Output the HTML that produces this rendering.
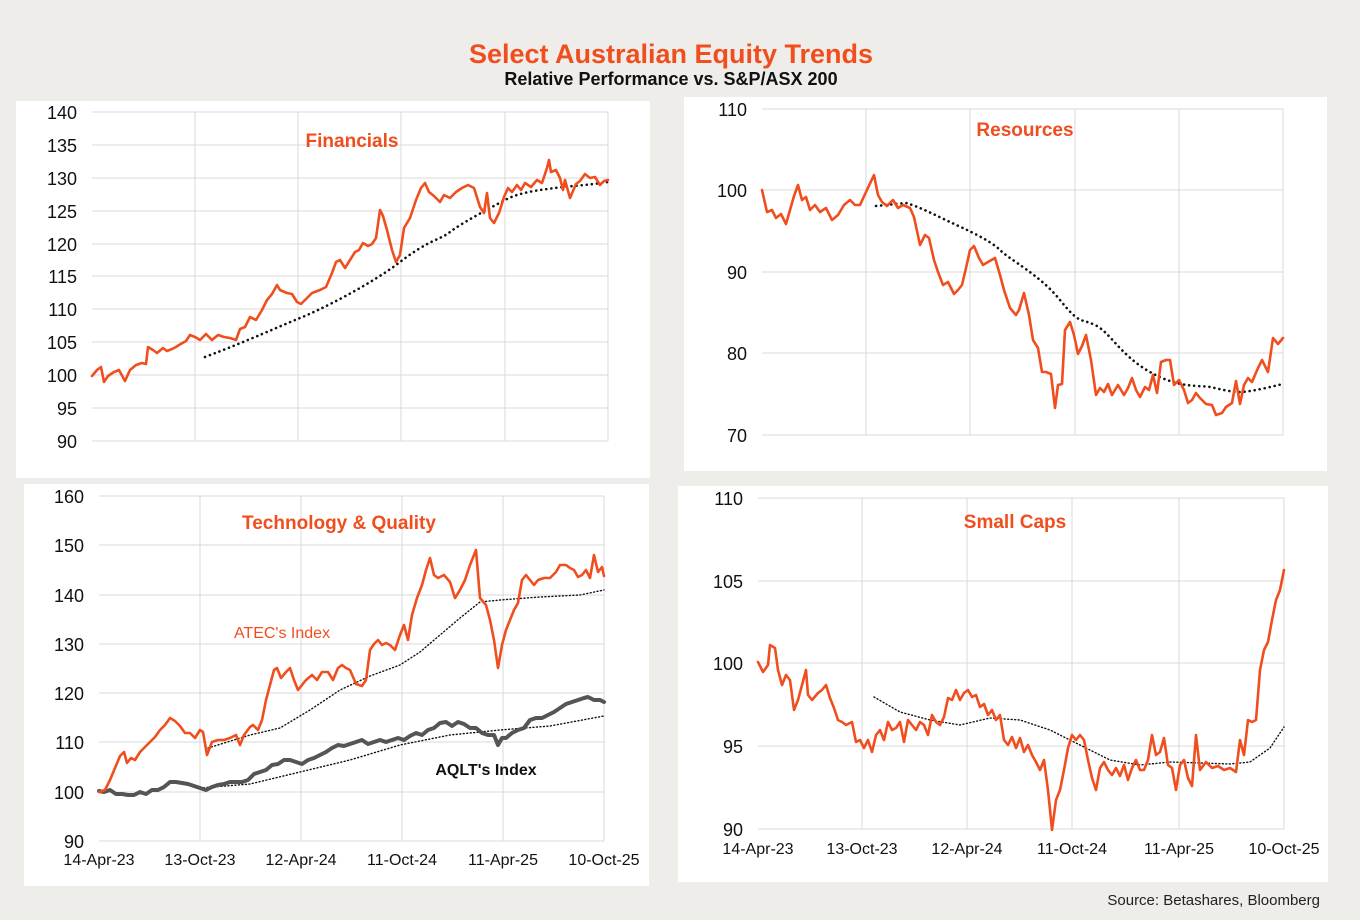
<!DOCTYPE html>
<html><head><meta charset="utf-8"><style>
html,body{margin:0;padding:0;background:#efedea;}
svg{display:block;font-family:"Liberation Sans",Arial,sans-serif;}
</style></head><body>
<svg width="1360" height="920" viewBox="0 0 1360 920" xmlns="http://www.w3.org/2000/svg">
<rect width="1360" height="920" fill="#efedea"/>
<text x="671" y="63" text-anchor="middle" font-size="27" font-weight="bold" fill="#f04e1e">Select Australian Equity Trends</text>
<text x="671" y="85" text-anchor="middle" font-size="18" font-weight="bold" fill="#111">Relative Performance vs. S&amp;P/ASX 200</text>

<rect x="16" y="101" width="634" height="377" fill="#fff"/>
<rect x="684" y="97" width="643" height="374" fill="#fff"/>
<rect x="24" y="484" width="625" height="402" fill="#fff"/>
<rect x="678" y="486" width="650" height="396" fill="#fff"/>

<g stroke="#d9d9d9" stroke-width="1" fill="none">
<!-- chart1 -->
<path d="M92 112H608M92 145H608M92 178H608M92 211H608M92 244H608M92 276H608M92 309H608M92 342H608M92 375H608M92 408H608M92 441H608"/>
<path d="M195 112V441M298 112V441M401 112V441M505 112V441M608 112V441"/>
<!-- chart2 -->
<path d="M762 109H1283M762 190H1283M762 272H1283M762 353H1283M762 435H1283"/>
<path d="M866 109V435M970 109V435M1075 109V435M1179 109V435M1283 109V435"/>
<!-- chart3 -->
<path d="M99 496H604M99 545H604M99 595H604M99 644H604M99 693H604M99 742H604M99 792H604M99 841H604"/>
<path d="M200 496V841M301 496V841M402 496V841M503 496V841M604 496V841"/>
<!-- chart4 -->
<path d="M758 498H1284M758 581H1284M758 663H1284M758 746H1284M758 829H1284"/>
<path d="M862 498V829M967 498V829M1072 498V829M1179 498V829M1284 498V829"/>
</g>

<g font-size="18" fill="#111" text-anchor="end">
<text x="77" y="119">140</text><text x="77" y="152">135</text><text x="77" y="185">130</text><text x="77" y="218">125</text><text x="77" y="251">120</text><text x="77" y="283">115</text><text x="77" y="316">110</text><text x="77" y="349">105</text><text x="77" y="382">100</text><text x="77" y="415">95</text><text x="77" y="448">90</text>
<text x="747" y="116">110</text><text x="747" y="197">100</text><text x="747" y="279">90</text><text x="747" y="360">80</text><text x="747" y="442">70</text>
<text x="84" y="503">160</text><text x="84" y="552">150</text><text x="84" y="602">140</text><text x="84" y="651">130</text><text x="84" y="700">120</text><text x="84" y="749">110</text><text x="84" y="799">100</text><text x="84" y="848">90</text>
<text x="743" y="505">110</text><text x="743" y="588">105</text><text x="743" y="670">100</text><text x="743" y="753">95</text><text x="743" y="836">90</text>
</g>
<g font-size="16" fill="#111" text-anchor="middle">
<text x="99" y="865">14-Apr-23</text><text x="200" y="865">13-Oct-23</text><text x="301" y="865">12-Apr-24</text><text x="402" y="865">11-Oct-24</text><text x="503" y="865">11-Apr-25</text><text x="604" y="865">10-Oct-25</text>
<text x="758" y="854">14-Apr-23</text><text x="862" y="854">13-Oct-23</text><text x="967" y="854">12-Apr-24</text><text x="1072" y="854">11-Oct-24</text><text x="1179" y="854">11-Apr-25</text><text x="1284" y="854">10-Oct-25</text>
</g>

<g font-size="19" font-weight="bold" fill="#f04e1e" text-anchor="middle">
<text x="352" y="147">Financials</text>
<text x="1025" y="136">Resources</text>
<text x="339" y="529">Technology &amp; Quality</text>
<text x="1015" y="528">Small Caps</text>
</g>
<text x="282" y="638" text-anchor="middle" font-size="16" fill="#f04e1e">ATEC's Index</text>
<text x="486" y="775" text-anchor="middle" font-size="16" font-weight="bold" fill="#111">AQLT's Index</text>
<text x="1320" y="905" text-anchor="end" font-size="15" fill="#222">Source:  Betashares, Bloomberg</text>

<g fill="none" stroke-linejoin="round" stroke-linecap="round">
<!-- dotted averages -->
<path stroke="#111" stroke-width="2.6" stroke-dasharray="0.1 5" d="M205 357 C250 340 280 326 300 318 S370 285 400 262 S440 240 450 232 S490 208 505 200 S540 190 555 188 S590 185 608 182"/>
<path stroke="#111" stroke-width="2.6" stroke-dasharray="0.1 5" d="M876 206 L906 203 C920 207 935 215 950 222 S990 240 1000 250 S1040 275 1060 300 S1080 318 1095 325 S1120 355 1150 372 S1200 385 1210 387 S1230 392 1240 392 S1270 387 1283 384"/>
<polyline stroke="#111" stroke-width="1.4" stroke-dasharray="1 2.5" points="208,748 250,735 280,728 310,710 340,690 370,676 400,665 420,652 440,635 460,618 480,602 500,600 540,597 580,595 604,590"/>
<polyline stroke="#111" stroke-width="1.4" stroke-dasharray="1 2.5" points="200,788 250,784 300,772 350,760 400,745 450,735 500,730 550,726 604,716"/>
<polyline stroke="#111" stroke-width="1.4" stroke-dasharray="1 2.5" points="874,697 900,712 930,720 960,725 990,718 1020,720 1050,730 1080,745 1110,760 1140,765 1170,762 1200,763 1230,764 1250,762 1270,748 1284,727"/>

<polyline stroke="#555" stroke-width="4" points="99,791 104,792 110,790 116,794 122,794 128,795 134,795 140,792 146,794 152,790 158,790 164,787 170,782 176,782 182,783 188,784 194,786 200,788 206,790 212,787 218,785 224,784 230,782 236,782 242,782 248,780 254,774 260,772 266,770 272,765 278,764 284,760 290,760 296,762 302,764 308,760 314,758 320,755 326,752 332,748 338,745 344,746 350,744 356,742 362,740 368,744 374,742 380,740 386,742 392,740 398,738 404,740 410,736 416,733 422,735 428,730 434,728 440,723 446,722 452,726 458,722 464,724 470,728 476,728 482,733 488,735 494,735 498,745 502,738 506,738 512,733 518,730 524,728 530,720 536,718 542,718 548,715 554,712 560,708 566,704 572,702 578,700 584,698 588,697 594,700 600,700 604,702"/>

<g stroke="#f04e1e" stroke-width="2.6">
<polyline points="92,376 97,370 101,367 104,382 108,376 114,372 119,370 125,381 130,370 136,365 142,363 146,364 148,347 153,350 157,353 163,348 167,351 172,349 176,347 179,345 186,341 190,335 195,337 200,340 206,334 212,340 218,335 224,337 230,338 236,340 240,329 245,327 250,317 256,320 262,310 267,300 272,294 277,285 280,290 287,293 292,294 297,302 301,304 305,300 312,293 320,290 326,287 332,273 336,262 340,260 345,268 350,260 355,252 359,250 363,243 368,246 372,244 376,238 380,210 383,216 387,230 392,250 396,262 400,255 404,228 410,218 416,200 421,188 425,183 429,192 434,196 440,202 444,195 450,198 456,192 462,188 468,185 474,188 480,207 484,213 487,193 490,218 494,223 499,213 504,197 508,188 512,192 517,185 521,190 525,183 531,187 537,180 542,183 547,168 549,160 551,172 556,170 560,178 563,190 565,180 570,198 576,184 580,181 585,174 590,178 595,177 600,185 604,181 608,180"/>
<polyline points="762,190 767,212 772,210 776,218 781,214 786,224 790,210 794,196 798,185 802,200 806,197 810,210 815,205 820,212 826,208 832,220 838,215 844,205 850,200 855,205 860,205 866,192 874,175 878,195 882,202 887,206 893,200 898,208 903,205 910,208 914,217 920,245 925,235 929,238 934,260 938,272 943,285 948,282 954,294 958,290 962,285 966,268 970,250 974,246 979,258 983,265 988,262 995,258 1000,275 1004,290 1010,308 1016,315 1019,310 1024,293 1029,315 1033,340 1038,348 1042,372 1046,372 1051,374 1055,408 1058,385 1062,384 1065,330 1070,322 1074,335 1078,354 1082,346 1086,335 1091,360 1096,395 1100,388 1104,392 1108,384 1112,395 1118,385 1124,395 1128,388 1132,378 1136,390 1140,397 1145,387 1149,390 1153,375 1157,393 1161,362 1166,360 1170,360 1174,385 1179,380 1184,390 1188,403 1192,400 1196,393 1200,398 1206,404 1212,405 1216,415 1222,413 1226,407 1232,403 1236,381 1240,404 1244,385 1248,378 1252,382 1258,368 1262,360 1268,372 1273,338 1278,344 1283,338"/>
<polyline points="99,792 105,790 110,780 115,768 120,756 124,752 127,763 131,758 135,760 140,752 145,747 150,742 155,737 160,730 165,725 170,718 175,721 180,726 185,733 190,733 195,738 200,730 203,732 207,755 212,742 218,740 224,740 230,738 236,735 240,745 244,735 250,727 253,725 258,730 262,720 266,700 270,685 274,670 277,668 281,678 286,672 290,668 294,680 298,690 302,685 306,680 312,675 317,680 322,672 328,672 333,680 338,668 342,665 346,668 350,670 356,684 362,686 366,680 370,650 374,644 378,640 382,645 386,643 390,645 395,650 400,635 404,625 408,640 412,615 417,598 422,585 426,570 430,558 434,575 438,578 444,575 450,582 455,598 460,590 465,580 470,565 474,555 476,550 480,598 486,605 490,620 494,640 498,668 502,645 506,630 510,620 514,610 518,603 522,580 526,575 530,580 534,585 538,580 544,578 550,578 556,572 560,565 566,565 570,568 574,570 578,577 582,575 586,570 590,578 594,555 598,572 602,567 604,576"/>
<polyline points="758,662 763,672 768,665 770,645 775,648 778,670 782,685 786,675 790,680 794,710 798,700 802,685 806,670 808,695 812,700 818,693 822,690 826,685 830,698 834,708 838,720 842,722 846,725 852,722 856,742 860,740 864,748 868,740 872,752 876,735 880,730 884,740 888,722 892,730 896,728 900,722 904,742 908,720 912,725 916,730 920,722 924,725 928,735 932,715 936,722 940,725 944,717 948,698 952,700 956,690 960,700 964,693 968,690 972,697 976,695 980,707 984,704 988,715 992,710 996,720 1000,715 1004,740 1008,745 1012,737 1016,748 1020,738 1024,752 1028,745 1032,755 1036,762 1040,770 1044,760 1048,790 1052,830 1056,800 1060,790 1064,770 1068,748 1072,735 1076,740 1080,735 1084,740 1088,760 1092,778 1096,790 1100,768 1104,762 1108,770 1112,775 1116,768 1120,776 1124,765 1128,780 1132,768 1136,760 1140,770 1144,770 1148,760 1152,735 1156,755 1160,752 1164,738 1168,765 1172,768 1176,790 1180,765 1184,760 1188,778 1192,786 1196,735 1200,770 1206,762 1212,768 1218,766 1224,770 1230,768 1236,772 1240,740 1244,755 1248,720 1252,722 1256,720 1260,670 1264,650 1268,642 1272,620 1276,600 1280,590 1284,570"/>
</g>
</g>
</svg>
</body></html>
